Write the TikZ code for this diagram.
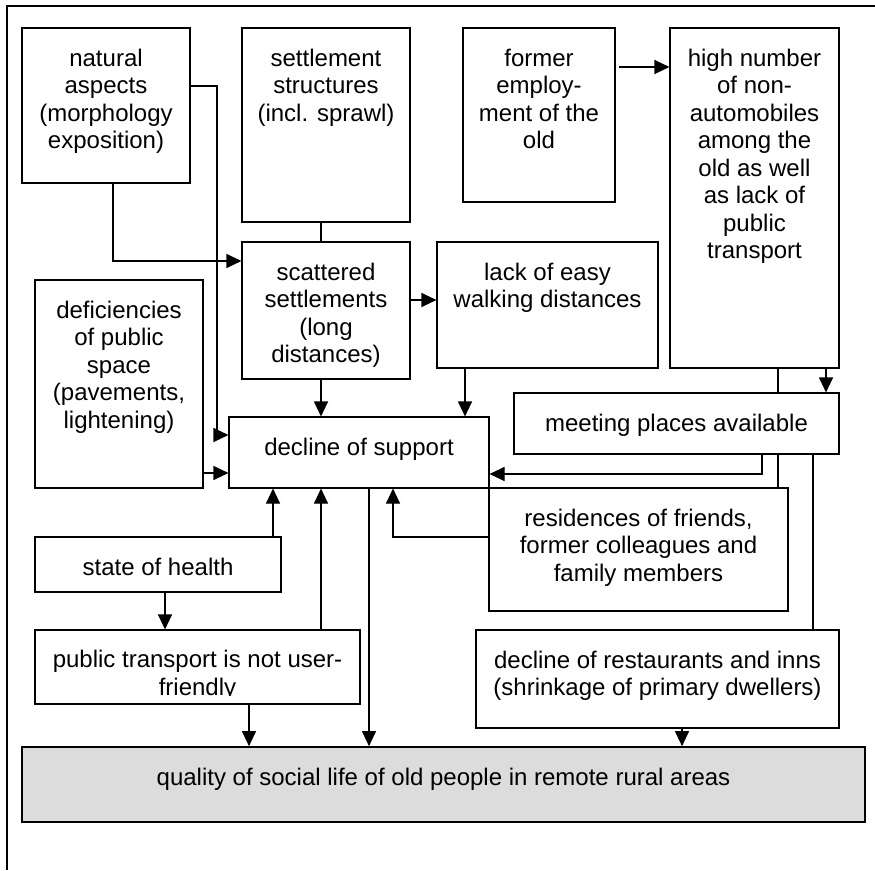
\documentclass[tikz,border=0pt]{standalone}
\usepackage{fontspec}
\setmainfont{Liberation Sans}
\usetikzlibrary{arrows.meta,backgrounds}
\tikzset{
  box/.style={draw, line width=1.1pt, fill=white, inner sep=0pt, font=\fontsize{24}{27.5}\selectfont},
  goal/.style={fill={rgb,255:red,220;green,220;blue,220}, line width=1.7pt},
  arr/.style={line width=1.1pt, -{Triangle[length=15pt,width=14pt]}},
  ln/.style={line width=1.1pt},
  frame/.style={line width=2pt}
}
\newcommand\DiagBox[7][]{%
  \node[box,#1] (#2) at ({(#3+#5)/2},{(#4+#6)/2})
    {\parbox[c][\dimexpr#6pt-#4pt\relax][t]{\dimexpr#5pt-#3pt\relax}{\centering\rule{0pt}{38pt}#7}};}
\begin{document}
\begin{tikzpicture}[x=1pt,y=-1pt]
\useasboundingbox (0,0) rectangle (875,870);
\draw[frame] (7,870) -- (7,6) -- (875,6);

\DiagBox{nat}{22}{28}{190}{183}{natural\\aspects\\(morphology\\exposition)}
\DiagBox{set}{242}{28}{410}{222}{settlement\\structures\\(incl. sprawl)}
\DiagBox{form}{463}{28}{615}{202}{former\\employ-\\ment of the\\old}
\DiagBox{high}{670}{28}{839}{368}{high number\\of non-\\automobiles\\among the\\old as well\\as lack of\\public\\transport}
\DiagBox{scat}{242}{242}{410}{379}{scattered\\settlements\\(long\\distances)}
\DiagBox{lack}{437}{242}{658}{368}{lack of easy\\walking distances}
\DiagBox{defi}{35}{280}{203}{488}{deficiencies\\of public\\space\\(pavements,\\lightening)}
\DiagBox{decl}{229}{417}{489}{488}{decline of support}
\DiagBox{meet}{514}{393}{839}{454}{meeting places available}
\DiagBox{resi}{489}{488}{788}{611}{residences of friends,\\former colleagues and\\family members}
\DiagBox{stat}{35}{537}{281}{592}{state of health}
\DiagBox{publ}{35}{630}{360}{704}{}
\begin{scope}
  \clip (publ.north west) rectangle ([yshift=9pt]publ.south east);
  \node[anchor=north, inner sep=0pt, font=\fontsize{24}{27.5}\selectfont] (publtxt) at (publ.north)
    {\parbox[t]{325pt}{\centering\rule{0pt}{38pt}public transport is not user-\\friendly}};
\end{scope}
\DiagBox{rest}{476}{630}{839}{728}{decline of restaurants and inns\\(shrinkage of primary dwellers)}
\DiagBox[goal]{qual}{22}{747}{865}{822}{quality of social life of old people in remote rural areas}

% helper coordinates
\coordinate (a1) at (217,86);  \coordinate (a2) at (217,435);
\coordinate (b1) at (113,261);
\coordinate (c1) at (321,0);
\coordinate (d1) at (0,67);
\coordinate (e1) at (0,300);
\coordinate (f1) at (465,0);
\coordinate (g1) at (826,0);
\coordinate (h1) at (0,473);
\coordinate (i1) at (762,474);
\coordinate (j1) at (778,0);
\coordinate (k1) at (813,0);
\coordinate (l1) at (273,0);
\coordinate (m1) at (369,0);
\coordinate (n1) at (393,537);
\coordinate (o1) at (165,0);
\coordinate (p1) at (249,0);
\coordinate (q1) at (682,0);

\begin{scope}[on background layer]
  \draw[ln] (high.south -| j1) -- (resi.north -| j1);
\end{scope}

\draw[arr] (nat.east |- a1) -- (a1) -- (a2) -- (decl.west |- a2);
\draw[arr] (nat.south -| b1) -- (b1) -- (scat.west |- b1);
\draw[ln]  (set.south -| c1) -- (scat.north -| c1);
\draw[arr] ([xshift=3pt]form.east |- d1) -- (high.west |- d1);
\draw[arr] (scat.east |- e1) -- (lack.west |- e1);
\draw[arr] (scat.south -| c1) -- (decl.north -| c1);
\draw[arr] (lack.south -| f1) -- (decl.north -| f1);
\draw[arr] (high.south -| g1) -- (meet.north -| g1);
\draw[arr] (defi.east |- h1) -- (decl.west |- h1);
\draw[arr] (meet.south -| i1) -- (i1) -- (decl.east |- i1);
\draw[ln]  (meet.south -| k1) -- (rest.north -| k1);
\draw[arr] (stat.north -| l1) -- (decl.south -| l1);
\draw[arr] (publ.north -| c1) -- (decl.south -| c1);
\draw[arr] (decl.south -| m1) -- (qual.north -| m1);
\draw[arr] (resi.west |- n1) -- (n1) -- (decl.south -| n1);
\draw[arr] (stat.south -| o1) -- (publ.north -| o1);
\draw[arr] (publ.south -| p1) -- (qual.north -| p1);
\draw[arr] (rest.south -| q1) -- (qual.north -| q1);
\end{tikzpicture}
\end{document}
